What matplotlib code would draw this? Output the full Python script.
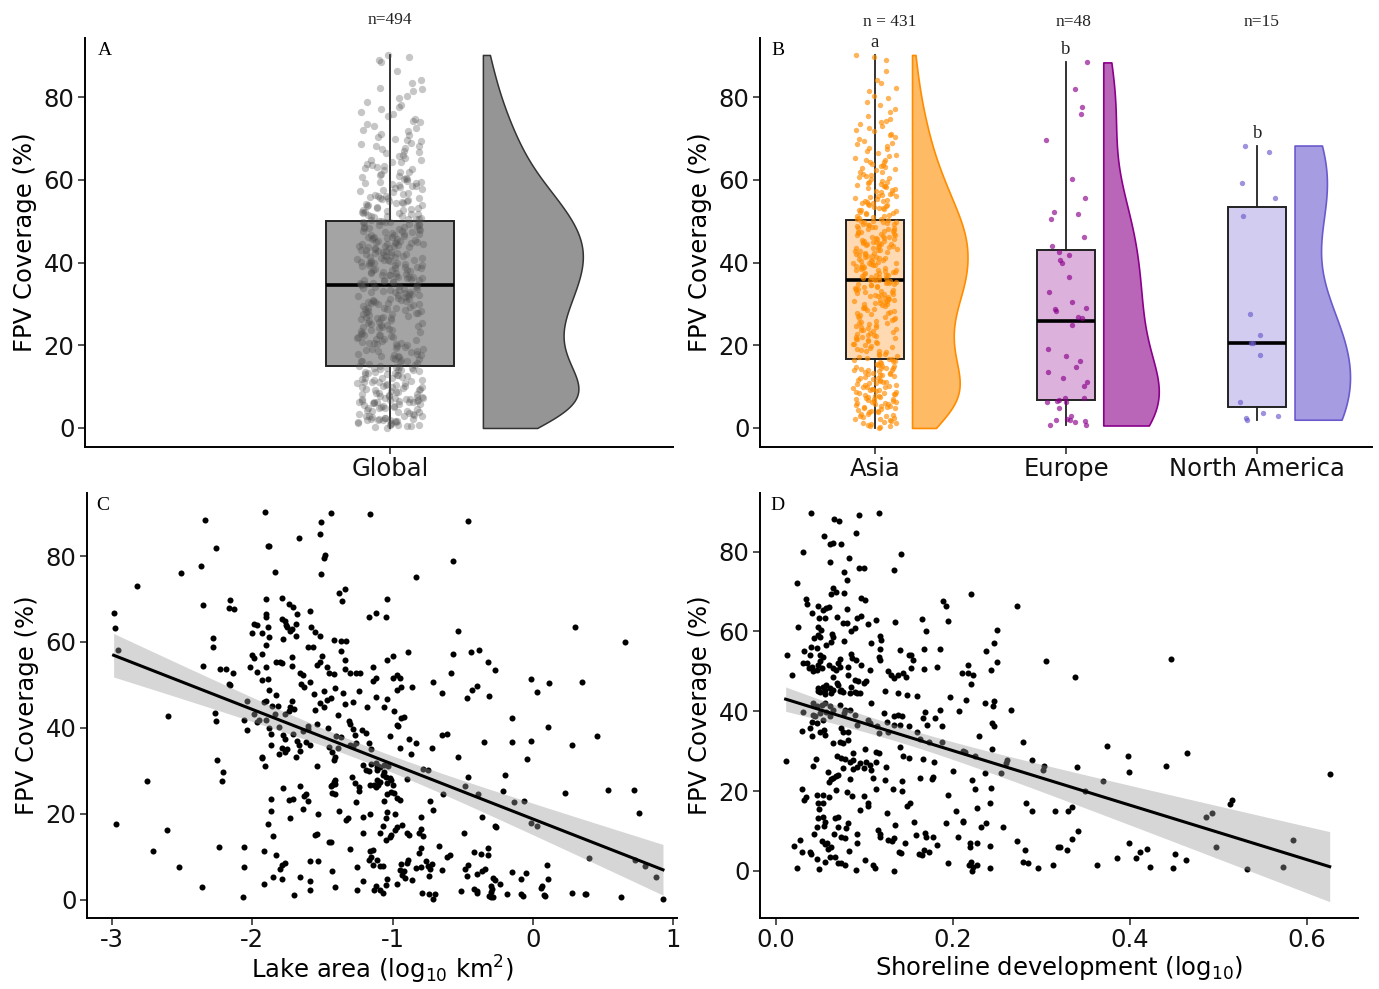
import numpy as np
import matplotlib
matplotlib.use("Agg")
import matplotlib.pyplot as plt
from matplotlib.transforms import blended_transform_factory

plt.rcParams['font.family'] = ['DejaVu Sans']
plt.rcParams['axes.unicode_minus'] = False

# ---------------- data ----------------
regions = ["Asia", "Europe", "North America"]
region_n_labels = ["n = 431", "n=48", "n=15"]
region_letters = ["a", "b", "b"]
global_label = "n=494"

asia = [
    0.0, 0.2, 0.4, 0.5, 0.8, 1.0, 1.1, 1.3, 1.5, 1.6, 1.9, 2.1, 2.2, 2.5, 2.7, 2.9, 3.0, 3.2, 3.4, 3.5,
    3.8, 3.9, 4.1, 4.2, 4.4, 4.6, 4.8, 4.9,
    5.0, 5.1, 5.3, 5.4, 5.5, 5.7, 5.8, 6.0, 6.1, 6.2, 6.4, 6.5, 6.6, 6.8, 6.9, 7.0, 7.1, 7.3, 7.4, 7.5,
    7.7, 7.8, 8.0, 8.1, 8.2, 8.4, 8.5, 8.7, 8.8, 9.0, 9.1, 9.2, 9.4, 9.5, 9.7, 9.8, 9.9,
    10.0, 10.1, 10.3, 10.4, 10.6, 10.8, 10.9, 11.0, 11.2, 11.4, 11.5, 11.7, 11.9, 12.0, 12.2, 12.3, 12.5,
    12.7, 12.8, 13.0, 13.1, 13.3, 13.4, 13.6, 13.7, 13.9, 14.0, 14.1, 14.3, 14.4, 14.5, 14.6, 14.8, 14.9, 14.95,
    15.2, 15.4, 15.6, 15.9, 16.1, 16.3, 16.5, 16.7, 16.8, 17.0, 17.2, 17.4, 17.6, 17.8, 18.0, 18.3, 18.5,
    18.7, 18.9, 19.2, 19.4, 19.6, 19.8,
    20.0, 20.2, 20.4, 20.6, 20.8, 21.0, 21.2, 21.4, 21.5, 21.7, 21.9, 22.1, 22.3, 22.5, 22.6, 22.8, 23.0,
    23.2, 23.4, 23.6, 23.8, 24.0, 24.1, 24.3, 24.5, 24.7, 24.9,
    25.1, 25.3, 25.5, 25.7, 25.9, 26.1, 26.3, 26.5, 26.7, 26.9, 27.1, 27.3, 27.5, 27.7, 27.9, 28.1, 28.3,
    28.5, 28.7, 28.9, 29.1, 29.3, 29.5, 29.7, 29.9,
    30.0, 30.1, 30.3, 30.4, 30.6, 30.7, 30.9, 31.0, 31.2, 31.3, 31.5, 31.6, 31.8, 31.9, 32.1, 32.2, 32.4,
    32.5, 32.7, 32.8, 33.0, 33.1, 33.3, 33.4, 33.6, 33.7, 33.9, 34.0, 34.2, 34.3, 34.5, 34.6, 34.8, 34.9,
    35.0, 35.1, 35.3, 35.4, 35.5, 35.7, 35.8, 35.9, 36.1, 36.2, 36.3, 36.5, 36.6, 36.7, 36.9, 37.0, 37.1,
    37.3, 37.4, 37.5, 37.7, 37.8, 37.9, 38.1, 38.2, 38.3, 38.5, 38.6, 38.7, 38.9, 39.0, 39.1, 39.3, 39.4,
    39.5, 39.7, 39.8, 39.9, 39.95,
    40.1, 40.3, 40.4, 40.5, 40.7, 40.8, 41.0, 41.1, 41.3, 41.4, 41.6, 41.7, 41.8, 42.0, 42.1, 42.3, 42.4,
    42.6, 42.7, 42.8, 43.0, 43.1, 43.3, 43.4, 43.5, 43.7, 43.8, 44.0, 44.1, 44.2, 44.4, 44.5, 44.6, 44.7,
    44.8, 44.9, 44.95,
    45.0, 45.2, 45.3, 45.4, 45.6, 45.7, 45.9, 46.0, 46.2, 46.3, 46.4, 46.6, 46.7, 46.9, 47.0, 47.2, 47.3,
    47.4, 47.6, 47.7, 47.9, 48.0, 48.2, 48.3, 48.4, 48.6, 48.7, 48.9, 49.0, 49.1, 49.3, 49.4, 49.5, 49.7,
    49.8, 49.9, 49.95,
    50.1, 50.3, 50.5, 50.6, 50.8, 51.0, 51.2, 51.3, 51.5, 51.7, 51.9, 52.0, 52.2, 52.4, 52.6, 52.8, 53.0,
    53.1, 53.3, 53.5, 53.7, 53.9, 54.0, 54.2, 54.4, 54.5, 54.7, 54.8, 54.9,
    55.1, 55.3, 55.5, 55.8, 56.0, 56.2, 56.4, 56.6, 56.9, 57.1, 57.3, 57.5, 57.7, 58.0, 58.2, 58.4, 58.6,
    58.8, 59.0, 59.2, 59.4, 59.6, 59.8,
    60.1, 60.4, 60.6, 60.9, 61.2, 61.5, 61.8, 62.0, 62.3, 62.6, 62.9, 63.1, 63.4, 63.7, 63.9, 64.2, 64.4,
    64.7, 64.9,
    65.3, 65.7, 66.1, 66.6, 67.0, 67.4, 67.8, 68.2, 68.6, 69.0, 69.4, 69.8,
    70.3, 70.8, 71.2, 71.7, 72.1, 72.6, 73.0, 73.5, 73.9, 74.3, 74.7,
    75.5, 76.3, 77.1, 78.0, 78.9, 79.7,
    80.2, 81.5, 82.3, 83.4, 84.1,
    86.2, 88.9, 89.6, 90.2,
]

europe = [88.4, 82.0, 77.6, 76.0, 69.7, 60.2, 55.7, 52.3, 51.7, 50.5, 46.3, 44.0, 42.6, 41.8, 40.5, 39.9,
          36.5, 33.0, 30.5, 29.1, 28.8, 28.4, 26.8, 26.5, 25.0, 19.2, 17.3, 16.1, 14.7, 13.5, 12.2, 11.1,
          10.2, 7.3, 6.8, 6.4, 6.4, 7.3, 6.6, 4.9, 3.0, 2.0, 2.2, 2.0, 1.8, 0.8, 0.6, 1.4]

north_america = [68.3, 66.7, 59.2, 55.5, 51.2, 27.6, 22.6, 20.6, 20.6, 17.7, 6.4, 3.6, 2.8, 2.4, 2.0]

lake_area = [
    -1.91, -1.44, -1.16, -2.34, -1.51, -1.52, -1.67, -1.89, -1.88, -2.26,
    -1.48, -1.49, -2.37, -2.51, -1.84, -1.51, -2.82, -1.34, -1.38, -1.36,
    -2.99, -2.35, -2.16, -2.17, -2.13, -1.90, -1.79, -1.74, -1.71, -1.68,
    -1.59, -1.90, -1.90, -1.17, -1.12, -2.98, -1.99, -1.97, -2.00, -1.93,
    -1.89, -1.88, -1.90, -1.79, -1.77, -1.76, -1.75, -1.72, -1.73, -1.69,
    -1.69, -1.78, -1.58, -1.55, -1.52, -1.42, -1.37, -1.33, -2.28, -2.28,
    -2.96, -2.35, -2.23, -2.19, -2.14, -2.17, -2.00, -1.99, -1.93, -1.90,
    -1.83, -1.80, -1.79, -1.72, -1.72, -1.66, -1.64, -1.60, -1.57, -1.59,
    -1.54, -1.52, -1.50, -1.47, -1.45, -1.42, -1.37, -1.34, -1.34, -1.30,
    -1.26, -1.23, -1.14, -1.14, -1.12, -2.02, -1.97, -1.93, -1.89, -1.88,
    -1.83, -1.65, -1.63, -1.90, -1.86, -1.92, -1.82, -1.73, -1.72, -1.74,
    -1.70, -1.77, -1.84, -1.90, -1.95, -1.97, -1.99, -2.04, -2.06, -2.04,
    -2.16, -2.27, -2.26, -2.60, -1.88, -1.87, -1.87, -1.93, -1.91, -1.81,
    -1.78, -1.77, -1.75, -1.79, -1.71, -1.69, -1.68, -1.67, -1.66, -1.64,
    -1.62, -1.60, -1.59, -1.55, -1.52, -1.54, -1.49, -1.47, -1.46, -1.45,
    -1.40, -1.39, -1.37, -1.43, -1.42, -1.41, -1.39, -1.34, -1.31, -1.30,
    -1.28, -1.27, -1.26, -1.22, -1.19, -1.17, -1.15, -1.15, -1.54, -1.21,
    -1.19, -1.17, -1.12, -1.11, -1.29, -1.27, -1.24, -1.24, -1.16, -1.11,
    -1.44, -1.43, -1.42, -1.41, -1.41, -1.43, -1.41, -1.38, -1.33, -1.32,
    -1.26, -1.21, -1.16, -1.21, -1.16, -1.17, -1.15, -1.14, -1.13, -1.21,
    -1.25, -1.25, -1.30, -1.41, -1.43, -1.45, -1.44, -1.53, -1.54, -1.55,
    -1.53, -1.59, -1.59, -1.59, -1.66, -1.70, -1.73, -1.64, -1.63, -1.62,
    -1.60, -1.66, -1.74, -1.71, -1.78, -1.87, -1.87, -1.89, -1.85, -1.83,
    -1.80, -1.79, -1.77, -1.92, -1.92, -1.85, -1.79, -2.06, -2.06, -2.07,
    -2.24, -2.36, -2.52, -2.61, -2.71, -2.75, -2.97, -2.25, -2.21, -2.22,
    -1.93, -1.81, -1.77, -1.56, -1.49, -1.44, -1.41, -1.35, -1.28, -1.24,
    -1.18, -1.12, -1.30, -1.28, -1.60,
    -0.46, -0.57, -0.83, -1.04, -1.05, 0.30, 0.66, -0.53, -0.89, -1.00,
    -1.04, -0.57, -0.44, -0.38, -0.32, -0.27, -0.58, -0.71, -0.65, -0.86,
    -1.00, -0.97, -0.95, -0.94, -0.97, -1.04, -1.06, -0.99, -0.94, -0.92,
    -0.97, -0.96, -1.02, -0.95, -0.88, -0.83, -0.87, -0.72, -0.65, -0.61,
    -0.53, -0.47, -0.43, -0.40, -0.31, -0.01, 0.03, 0.12, 0.35, -0.15,
    0.11, 0.46, -0.35, -0.15, -0.01, -0.04, 0.28, -0.20, -0.46, -0.48,
    -0.39, -0.21, -0.13, -0.06, -0.01, 0.03, 0.23, 0.54, 0.72, 0.76,
    0.40, 0.73, 0.80, 0.88, 0.93, 0.63, 0.37, 0.38, 0.28, 0.10,
    0.11, 0.08, 0.09, 0.06, 0.07, -0.05, -0.08, -0.08, -0.07, -0.15,
    -0.18, -0.23, -0.28, -0.27, -0.30, -0.29, -0.30, -0.31, -0.30, -0.28,
    -0.34, -0.36, -0.32, -0.32, -0.37, -0.42, -0.40, -0.40, -0.42, -0.40,
    -0.47, -0.48, -0.46, -0.51, -0.49, -0.36, -0.27, -0.26, -0.61, -0.59,
    -0.67, -0.65, -0.72, -0.70, -0.71, -0.74, -0.75, -0.74, -0.73, -0.76,
    -0.79, -0.80, -0.83, -0.81, -0.80, -0.78, -0.80, -0.71, -0.73, -0.86,
    -0.91, -0.93, -0.94, -0.95, -0.90, -0.88, -0.89, -0.97, -0.97, -0.93,
    -0.98, -1.01, -1.02, -0.98, -1.04, -1.05, -1.07, -1.05, -1.09, -1.07,
    -1.05, -1.04, -1.12, -1.09, -1.11, -1.09, -1.07, -1.14, -1.02, -1.01,
    -1.00, -1.04, -1.04, -1.01, -0.99, -0.97, -0.95, -1.06, -1.11, -1.09,
    -1.06, -1.10, -1.07, -1.05, -1.06, -1.10, -1.13, -1.12, -1.09, -0.90,
    -1.03, -0.78, -0.75, -0.64, -0.80, -0.81, -0.90, -0.92,
]

fpv_lake = [
    90.2, 90.1, 89.7, 88.5, 88.0, 85.2, 84.2, 82.4, 82.3, 82.0,
    80.3, 79.6, 77.6, 76.1, 76.2, 75.9, 73.1, 72.4, 71.5, 69.6,
    66.7, 68.5, 69.7, 67.9, 67.6, 69.9, 70.2, 68.8, 68.2, 66.5,
    67.1, 66.6, 65.9, 65.7, 66.7, 63.2, 64.3, 64.0, 62.2, 62.0,
    63.5, 61.2, 59.3, 65.4, 64.9, 63.9, 63.5, 63.0, 62.5, 64.1,
    61.4, 60.7, 63.6, 62.4, 61.5, 60.5, 60.3, 60.3, 60.9, 58.9,
    58.1, 54.4, 53.8, 53.8, 52.8, 50.2, 56.9, 56.2, 57.3, 54.2,
    55.4, 55.4, 55.0, 56.6, 54.5, 52.7, 52.3, 58.9, 58.9, 50.7,
    54.6, 55.4, 56.7, 54.1, 52.8, 52.5, 58.0, 55.9, 53.7, 52.7,
    52.7, 52.7, 54.2, 51.0, 51.5, 54.2, 53.1, 51.1, 51.3, 48.8,
    47.6, 50.3, 49.5, 46.2, 45.1, 46.0, 45.1, 44.9, 46.2, 43.9,
    44.3, 43.3, 43.2, 41.8, 41.8, 41.4, 43.2, 46.3, 41.8, 39.6,
    50.0, 43.5, 41.6, 42.7, 39.9, 38.6, 36.0, 33.2, 31.1, 40.1,
    38.3, 37.5, 35.1, 35.2, 38.5, 33.3, 37.0, 35.9, 34.7, 39.2,
    36.8, 39.7, 35.9, 44.1, 45.7, 40.9, 44.9, 46.5, 39.9, 35.6,
    38.1, 35.3, 37.8, 34.3, 32.6, 33.1, 43.0, 45.5, 41.7, 41.0,
    39.8, 38.4, 36.4, 39.6, 38.7, 36.4, 35.0, 31.5, 31.2, 31.3,
    30.1, 30.0, 31.7, 30.9, 28.6, 27.1, 26.3, 25.2, 26.6, 27.8,
    26.5, 26.7, 27.4, 27.8, 26.9, 24.9, 24.7, 20.7, 18.6, 18.9,
    22.8, 19.3, 19.9, 15.4, 11.4, 9.2, 9.9, 8.1, 2.2, 4.4,
    7.6, 2.2, 11.7, 3.0, 6.6, 13.3, 13.4, 20.0, 15.2, 15.0,
    9.0, 4.3, 2.3, 8.9, 5.3, 1.0, 19.0, 21.0, 24.2, 24.6,
    22.9, 26.5, 23.2, 23.5, 25.9, 23.5, 20.7, 17.7, 14.8, 10.3,
    7.1, 8.0, 8.6, 11.3, 3.7, 5.2, 4.9, 12.2, 7.5, 0.6,
    12.3, 3.0, 7.6, 16.2, 11.2, 27.7, 17.5, 32.5, 29.8, 27.5,
    33.0, 33.9, 34.4, 47.8, 48.5, 47.0, 49.2, 48.0, 46.0, 48.6,
    44.9, 47.1, 36.0, 35.7, 40.5,
    88.1, 78.9, 75.2, 69.9, 65.9, 63.6, 60.0, 62.5, 57.7, 56.8,
    55.8, 57.3, 57.7, 58.2, 55.3, 53.5, 52.8, 50.6, 48.0, 49.5,
    51.6, 52.3, 51.7, 49.5, 48.9, 46.7, 44.8, 44.0, 42.4, 42.6,
    40.6, 40.4, 38.2, 35.2, 37.3, 36.4, 34.0, 35.4, 38.3, 38.6,
    33.1, 47.0, 48.8, 49.7, 47.4, 51.4, 48.4, 50.5, 50.7, 42.3,
    40.3, 38.1, 36.6, 36.7, 37.0, 32.8, 35.9, 29.1, 28.6, 26.5,
    24.5, 25.2, 22.7, 22.9, 17.9, 17.2, 24.8, 25.4, 25.6, 20.1,
    9.6, 9.2, 7.8, 5.2, 0.2, 0.7, 1.2, 1.2, 1.6, 8.0,
    4.9, 1.0, 0.8, 2.8, 3.2, 6.1, 4.7, 1.3, 0.8, 6.4,
    1.3, 3.7, 5.1, 4.6, 3.2, 2.5, 1.8, 0.9, 0.5, 0.6,
    7.0, 6.6, 10.3, 12.0, 10.5, 11.1, 5.9, 2.0, 2.4, 1.6,
    5.4, 7.2, 8.0, 2.0, 15.5, 19.3, 17.1, 16.9, 10.0, 10.3,
    12.5, 6.8, 8.2, 1.4, 0.2, 1.4, 7.8, 5.4, 7.0, 9.0,
    1.6, 7.5, 7.4, 10.9, 11.9, 14.8, 19.3, 20.8, 23.0, 4.5,
    5.1, 5.6, 8.2, 6.8, 15.4, 15.0, 9.3, 3.7, 16.9, 17.3,
    16.1, 15.0, 14.6, 19.9, 20.4, 18.9, 17.2, 13.8, 15.4, 1.5,
    3.5, 4.9, 3.1, 2.3, 9.2, 7.8, 7.8, 11.5, 28.2, 27.8,
    26.6, 27.1, 24.7, 25.1, 24.9, 23.6, 23.3, 23.0, 30.1, 30.9,
    31.3, 31.2, 29.0, 28.6, 29.8, 26.6, 26.6, 26.2, 27.4, 28.1,
    31.0, 30.5, 30.1, 24.7, 16.4, 15.6, 8.4, 6.7,
]

shoreline_dev = [
    0.040, 0.066, 0.071, 0.094, 0.116, 0.091, 0.054, 0.061, 0.065, 0.074,
    0.031, 0.141, 0.083, 0.061, 0.094, 0.099, 0.134, 0.077, 0.080, 0.024,
    0.064, 0.062, 0.068, 0.077, 0.096, 0.101, 0.034, 0.035, 0.189, 0.192,
    0.221, 0.047, 0.057, 0.060, 0.041, 0.053, 0.080, 0.069, 0.049, 0.056,
    0.092, 0.096, 0.104, 0.113, 0.076, 0.080, 0.089, 0.085, 0.135, 0.165,
    0.195, 0.170, 0.025, 0.048, 0.051, 0.250, 0.272,
    0.063, 0.065, 0.047, 0.050, 0.043, 0.077, 0.062, 0.057, 0.118, 0.119,
    0.108, 0.040, 0.046, 0.032, 0.038, 0.031, 0.035, 0.037, 0.041, 0.050,
    0.053, 0.050, 0.048, 0.060, 0.065, 0.068, 0.072, 0.070, 0.072, 0.042,
    0.046, 0.052, 0.085, 0.086, 0.091, 0.096, 0.082, 0.081, 0.089, 0.093,
    0.099, 0.102, 0.085, 0.089, 0.095, 0.118, 0.117, 0.118, 0.127, 0.130,
    0.134, 0.138, 0.144, 0.147, 0.155, 0.153, 0.167, 0.150, 0.153, 0.140,
    0.186, 0.182, 0.167, 0.210, 0.217, 0.217, 0.065, 0.069, 0.061, 0.057,
    0.065, 0.047, 0.050, 0.053, 0.055, 0.070, 0.073, 0.076, 0.018, 0.012,
    0.220, 0.223, 0.243, 0.250, 0.238, 0.247, 0.305, 0.338, 0.447, 0.106,
    0.048, 0.055, 0.062, 0.072, 0.084, 0.092, 0.107, 0.123, 0.138, 0.148,
    0.159, 0.197, 0.215, 0.042, 0.046, 0.052, 0.055, 0.061, 0.031, 0.042,
    0.044, 0.050, 0.057, 0.061, 0.041, 0.046, 0.053, 0.030, 0.038, 0.041,
    0.050, 0.054, 0.055, 0.065, 0.072, 0.078, 0.074, 0.076, 0.081, 0.077,
    0.084, 0.089, 0.092, 0.104, 0.106, 0.114, 0.116, 0.122, 0.126, 0.133,
    0.138, 0.142, 0.133, 0.140, 0.127, 0.150, 0.159, 0.166, 0.169, 0.171,
    0.180, 0.185, 0.163, 0.173, 0.188, 0.188, 0.207, 0.214, 0.064, 0.072,
    0.076, 0.082, 0.074, 0.078, 0.069, 0.087, 0.101, 0.113, 0.116, 0.113,
    0.087, 0.140, 0.144, 0.150, 0.166, 0.179, 0.200, 0.011, 0.042, 0.045,
    0.059, 0.062, 0.065, 0.068, 0.070, 0.060, 0.076, 0.084, 0.084, 0.087,
    0.092, 0.095, 0.099, 0.102, 0.106, 0.108, 0.110, 0.124, 0.123, 0.143,
    0.163, 0.176, 0.178, 0.030, 0.034, 0.032, 0.046, 0.053, 0.060, 0.048,
    0.053, 0.068, 0.080, 0.086, 0.099, 0.104, 0.104, 0.113, 0.132, 0.143,
    0.049, 0.095, 0.126, 0.148, 0.151, 0.195, 0.204, 0.048, 0.053, 0.056,
    0.067, 0.070, 0.046, 0.054, 0.070, 0.081, 0.079, 0.043, 0.066, 0.074,
    0.078, 0.092, 0.115, 0.118, 0.135, 0.156, 0.192, 0.211, 0.020, 0.027,
    0.030, 0.038, 0.040, 0.052, 0.055, 0.058, 0.062, 0.059, 0.046, 0.055,
    0.061, 0.067, 0.070, 0.074, 0.078, 0.083, 0.092, 0.101, 0.110, 0.112,
    0.090, 0.049, 0.024, 0.118, 0.127, 0.131, 0.134, 0.139, 0.141, 0.146,
    0.158, 0.162, 0.165, 0.168, 0.170, 0.167, 0.173, 0.178, 0.182, 0.194,
    0.206, 0.134, 0.219, 0.218,
    0.236, 0.247, 0.245, 0.266, 0.244, 0.246, 0.229, 0.244, 0.279, 0.212,
    0.225, 0.261, 0.260, 0.254, 0.236, 0.290, 0.303, 0.302, 0.222, 0.225,
    0.243, 0.283, 0.290, 0.316, 0.242, 0.227, 0.212, 0.232, 0.238, 0.219,
    0.227, 0.242, 0.257, 0.272, 0.281, 0.279, 0.285, 0.296, 0.313, 0.319,
    0.242, 0.221, 0.223, 0.227, 0.222,
    0.340, 0.374, 0.398, 0.399, 0.441, 0.465, 0.370, 0.349, 0.330, 0.335,
    0.342, 0.335, 0.321, 0.329, 0.363, 0.385, 0.399, 0.407, 0.411, 0.419,
    0.423, 0.449, 0.451, 0.463, 0.486, 0.493, 0.498, 0.513, 0.516, 0.532,
    0.573, 0.585, 0.626,
]

fpv_shore = [
    89.8, 88.1, 87.7, 89.2, 89.7, 84.8, 83.9, 81.9, 82.1, 82.0,
    79.9, 79.4, 78.4, 77.4, 75.8, 75.9, 75.4, 74.9, 72.8, 72.1,
    71.0, 69.3, 69.8, 69.6, 68.5, 67.9, 68.2, 66.8, 67.7, 66.5,
    69.3, 66.5, 66.0, 66.2, 64.7, 65.4, 65.7, 63.7, 63.3, 63.3,
    63.3, 63.9, 61.8, 62.9, 62.1, 62.2, 60.9, 60.2, 62.3, 63.2,
    62.5, 60.2, 61.0, 61.2, 60.4, 60.4, 66.4,
    59.4, 58.7, 59.0, 58.5, 58.3, 57.5, 57.3, 56.5, 58.9, 57.9,
    57.1, 56.2, 55.8, 55.0, 54.1, 52.0, 52.0, 50.8, 51.2, 54.0,
    53.7, 52.7, 51.6, 51.5, 50.8, 50.4, 53.0, 52.0, 51.2, 50.0,
    50.4, 50.8, 54.3, 53.3, 52.9, 51.6, 49.1, 51.2, 47.9, 47.5,
    47.2, 47.5, 46.2, 44.9, 44.7, 55.6, 53.7, 52.9, 50.0, 49.1,
    48.3, 49.1, 49.5, 48.7, 52.9, 50.8, 50.5, 54.0, 54.0, 55.4,
    55.6, 51.2, 55.6, 49.5, 51.6, 49.7, 48.7, 47.0, 45.8, 46.6,
    45.4, 45.8, 44.9, 46.0, 45.4, 46.6, 45.4, 44.9, 49.1, 54.0,
    46.8, 49.0, 50.4, 52.3, 55.0, 57.1, 52.5, 48.5, 53.2, 50.3,
    45.0, 44.4, 44.7, 45.0, 44.5, 44.7, 42.0, 45.0, 44.7, 44.1,
    43.9, 43.7, 42.9, 42.2, 41.2, 41.6, 42.0, 41.2, 39.7, 39.1,
    38.7, 39.5, 39.9, 38.8, 37.4, 37.0, 37.8, 35.1, 35.8, 33.8,
    34.9, 35.3, 34.1, 40.4, 41.6, 40.4, 35.8, 34.9, 34.7, 39.5,
    40.4, 39.1, 36.6, 37.7, 37.0, 36.3, 34.5, 39.5, 37.2, 38.7,
    39.1, 38.7, 36.6, 36.6, 34.9, 36.2, 34.8, 38.3, 39.7, 36.6,
    38.3, 40.2, 33.0, 32.4, 36.3, 32.4, 40.0, 29.9, 32.0, 32.4,
    32.0, 32.8, 28.2, 28.0, 28.7, 27.8, 30.5, 29.9, 29.5, 27.4,
    29.5, 31.0, 28.7, 28.2, 28.0, 27.4, 25.1, 27.6, 26.3, 28.0,
    24.9, 23.0, 23.2, 23.8, 24.1, 22.4, 25.7, 27.4, 23.0, 25.5,
    26.1, 27.0, 25.7, 27.4, 26.6, 25.3, 23.2, 26.1, 22.8, 22.6,
    23.2, 23.0, 23.5, 20.6, 18.5, 17.8, 19.0, 18.9, 18.6, 17.0,
    17.0, 20.3, 19.7, 18.8, 18.8, 17.0, 16.3, 20.6, 20.5, 20.1,
    15.5, 15.3, 14.5, 16.3, 17.0, 19.0, 14.9, 13.2, 13.6, 12.2,
    13.2, 13.6, 11.1, 11.3, 11.1, 11.9, 10.7, 9.3, 9.3, 8.6,
    8.2, 9.3, 10.3, 9.3, 11.5, 12.3, 12.1, 12.2, 6.3, 7.8,
    4.8, 4.8, 4.2, 7.4, 6.8, 7.1, 6.1, 5.4, 2.9, 2.2,
    3.6, 3.4, 1.9, 2.1, 1.5, 5.0, 6.9, 2.8, 1.5, 0.7,
    0.3, 0.5, 0.8, 8.6, 7.8, 7.4, 8.2, 4.8, 4.4, 7.1,
    9.0, 4.3, 3.9, 9.4, 8.6, 5.3, 4.8, 8.6, 6.5, 2.1,
    8.6, 0.0, 6.1, 1.5,
    42.2, 42.7, 41.2, 40.4, 37.0, 36.3, 33.7, 30.5, 32.4, 30.1,
    28.7, 27.8, 27.0, 24.5, 24.5, 27.7, 26.3, 25.3, 22.8, 20.6,
    20.7, 17.0, 15.1, 14.9, 17.1, 15.8, 12.4, 10.9, 11.9, 6.9,
    6.9, 6.3, 11.1, 7.5, 5.3, 2.3, 1.9, 0.8, 1.5, 6.1,
    0.8, 2.3, 1.1, 1.5, 0.0,
    26.1, 31.2, 28.9, 24.8, 26.3, 29.6, 22.5, 19.9, 15.0, 16.1,
    9.9, 8.0, 6.0, 5.3, 1.5, 3.2, 6.9, 3.2, 4.7, 5.5,
    1.0, 0.7, 4.3, 2.7, 13.6, 14.6, 5.9, 16.7, 17.8, 0.6,
    1.1, 7.7, 24.2,
]

global_vals = asia + europe + north_america

# ---------------- styling ----------------
region_colors = ['#FF8C00', '#8B008B', '#6A5ACD']
region_box_fill = ['#FFD9B2', '#DCB2DC', '#D2CDF0']
region_violin_fill = ['#FFBA66', '#B966B9', '#A69CE1']
SERIF = ['Liberation Serif', 'DejaVu Serif']
FS = 17.5

W, H = 1379, 989
fig = plt.figure(figsize=(W / 100, H / 100), dpi=100)


def add_ax(l, t, r, b):
    return fig.add_axes([l / W, 1 - b / H, (r - l) / W, (b - t) / H])


def style(ax):
    ax.spines[['top', 'right']].set_visible(False)
    for s in ['left', 'bottom']:
        ax.spines[s].set_linewidth(1.4)
        ax.spines[s].set_color('black')
    ax.tick_params(axis='both', direction='out', length=5, width=1.2, color='#333333',
                   labelsize=FS, labelcolor='#111111', pad=2.5)


def jitter(n, width, shift):
    k = np.arange(n, dtype=float) + shift
    u = (np.sin(k * 12.9898 + 78.233) * 43758.5453) % 1.0
    return width * (2 * u - 1)


def half_violin(ax, vals, pos, maxw, face, edge, lw=1.1):
    v = np.asarray(vals, dtype=float)
    n = len(v)
    sd = v.std(ddof=1)
    q75, q25 = np.percentile(v, [75, 25])
    bw = 0.9 * min(sd, (q75 - q25) / 1.34) * n ** -0.2
    ys = np.linspace(v.min(), v.max(), 512)
    dens = np.exp(-0.5 * ((ys[:, None] - v[None, :]) / bw) ** 2).sum(axis=1)
    w = dens / dens.max() * maxw
    ax.fill_betweenx(ys, pos, pos + w, facecolor=face, edgecolor=edge, linewidth=lw, zorder=2)


def box(ax, vals, pos, width, fill, edge='#222222'):
    ax.boxplot([vals], positions=[pos], widths=width, patch_artist=True, showfliers=False,
               showcaps=False, whis=1.5, manage_ticks=False,
               boxprops=dict(facecolor=fill, edgecolor=edge, linewidth=1.4),
               medianprops=dict(color='black', linewidth=2.6),
               whiskerprops=dict(color=edge, linewidth=1.3), zorder=2)


def fit_band(ax, x, y):
    x = np.asarray(x, dtype=float)
    y = np.asarray(y, dtype=float)
    b1, b0 = np.polyfit(x, y, 1)
    n = len(x)
    res = y - (b0 + b1 * x)
    s = np.sqrt((res ** 2).sum() / (n - 2))
    sxx = ((x - x.mean()) ** 2).sum()
    xs = np.linspace(x.min(), x.max(), 200)
    fit = b0 + b1 * xs
    se = s * np.sqrt(1 / n + (xs - x.mean()) ** 2 / sxx)
    t = 1.965
    ax.fill_between(xs, fit - t * se, fit + t * se, color='#999999', alpha=0.4, linewidth=0, zorder=3)
    ax.plot(xs, fit, color='black', linewidth=2.2, zorder=4)


# ---------------- Panel A ----------------
axA = add_ax(85, 38, 673, 447)
style(axA)
axA.set_xlim(-0.622, 0.578)
axA.set_ylim(-4.6, 94.3)
box(axA, global_vals, 0, 0.262, '#A4A4A4')
axA.scatter(jitter(len(global_vals), 0.068, 3.0), global_vals, s=28, color='#505050', alpha=0.32,
            linewidths=0, zorder=3)
half_violin(axA, global_vals, 0.19, 0.204, '#959595', '#333333')
axA.set_xticks([0])
axA.set_xticklabels(['Global'])
axA.set_yticks([0, 20, 40, 60, 80])
axA.set_ylabel('FPV Coverage (%)', fontsize=FS, labelpad=5)
axA.text(0.022, 0.99, 'A', transform=axA.transAxes, family=SERIF, fontsize=14, va='top', ha='left')
trA = blended_transform_factory(axA.transData, axA.transAxes)
axA.text(0, 1.044, global_label, transform=trA, family=SERIF, fontsize=12.5, ha='center',
         va='center', color='#222222', clip_on=False)

# ---------------- Panel B ----------------
axB = add_ax(760, 38, 1372, 447)
style(axB)
axB.set_xlim(0.4, 3.6)
axB.set_ylim(-4.6, 94.3)
groups = [asia, europe, north_america]
trB = blended_transform_factory(axB.transData, axB.transAxes)
n_label_x = [1.08, 2.04, 3.02]
for i, vals in enumerate(groups):
    pos = i + 1
    box(axB, vals, pos, 0.305, region_box_fill[i])
    axB.scatter(pos + jitter(len(vals), 0.115, 11.0 + 7 * i), vals, s=15, color=region_colors[i],
                alpha=0.65, linewidths=0, zorder=3)
    half_violin(axB, vals, pos + 0.195, 0.29, region_violin_fill[i], region_colors[i], lw=1.2)
    axB.text(pos, max(vals) + 3.0, region_letters[i], family=SERIF, fontsize=13.5, ha='center',
             va='center', color='#222222')
    axB.text(n_label_x[i], 1.039, region_n_labels[i], transform=trB, family=SERIF, fontsize=12.5,
             ha='center', va='center', color='#222222', clip_on=False)
axB.set_xticks([1, 2, 3])
axB.set_xticklabels(regions)
axB.set_yticks([0, 20, 40, 60, 80])
axB.set_ylabel('FPV Coverage (%)', fontsize=FS, labelpad=5)
axB.text(0.018, 0.99, 'B', transform=axB.transAxes, family=SERIF, fontsize=14, va='top', ha='left')

# ---------------- Panel C ----------------
axC = add_ax(87, 493, 677, 918)
style(axC)
axC.set_xlim(-3.18, 1.03)
axC.set_ylim(-4.3, 94.7)
axC.scatter(lake_area, fpv_lake, s=19, color='black', linewidths=0, zorder=2)
fit_band(axC, lake_area, fpv_lake)
axC.set_xticks([-3, -2, -1, 0, 1])
axC.set_yticks([0, 20, 40, 60, 80])
axC.set_xlabel(r'Lake area (log$_{10}$ km$^{2}$)', fontsize=FS, labelpad=1)
axC.set_ylabel('FPV Coverage (%)', fontsize=FS, labelpad=5)
axC.text(0.016, 0.99, 'C', transform=axC.transAxes, family=SERIF, fontsize=14, va='top', ha='left')

# ---------------- Panel D ----------------
axD = add_ax(760, 493, 1358, 918)
style(axD)
axD.set_xlim(-0.018, 0.658)
axD.set_ylim(-11.8, 94.7)
axD.scatter(shoreline_dev, fpv_shore, s=19, color='black', linewidths=0, zorder=2)
fit_band(axD, shoreline_dev, fpv_shore)
axD.set_xticks([0.0, 0.2, 0.4, 0.6])
axD.set_xticklabels(['0.0', '0.2', '0.4', '0.6'])
axD.set_yticks([0, 20, 40, 60, 80])
axD.set_xlabel(r'Shoreline development (log$_{10}$)', fontsize=FS, labelpad=1)
axD.set_ylabel('FPV Coverage (%)', fontsize=FS, labelpad=5)
axD.text(0.018, 0.99, 'D', transform=axD.transAxes, family=SERIF, fontsize=14, va='top', ha='left')

fig.savefig('out.png', dpi=100, facecolor='white')
